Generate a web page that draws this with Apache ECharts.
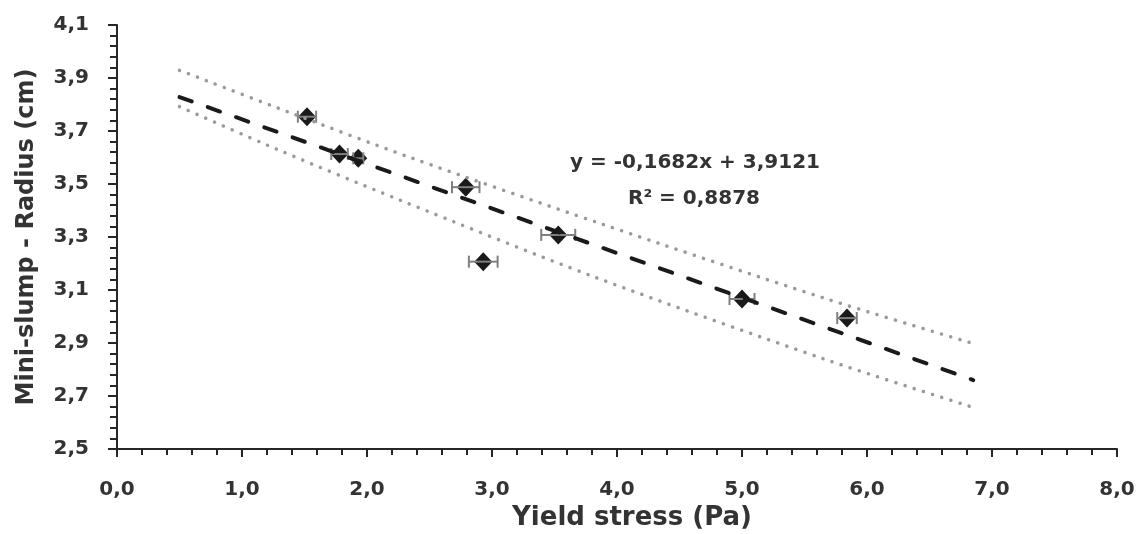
<!DOCTYPE html>
<html>
<head>
<meta charset="utf-8">
<script src="https://cdn.jsdelivr.net/npm/echarts@6/dist/echarts.min.js"></script>
<style>
html,body{margin:0;padding:0;background:#fff;}
#chart{width:1140px;height:534px;}
</style>
</head>
<body>
<div id="chart"></div>
<script>
// Measured data points (yield stress, mini-slump radius) and horizontal error (Pa)
const xVals = [1.52, 1.78, 1.93, 2.79, 2.93, 3.53, 5.00, 5.84];
const yVals = [3.754, 3.613, 3.597, 3.488, 3.207, 3.308, 3.066, 2.994];
const xErr  = [0.073, 0.066, 0.04, 0.11, 0.115, 0.136, 0.10, 0.078];

// Trend line and dotted band lines
const trendX = [0.5, 6.85];
const trendY = [3.828, 2.760];
const upperX = [0.5, 1.37, 2.34, 3.86, 5.66, 6.85];
const upperY = [3.929, 3.772, 3.601, 3.352, 3.069, 2.898];
const lowerX = [0.5, 1.28, 2.26, 3.81, 5.66, 6.85];
const lowerY = [3.792, 3.631, 3.440, 3.151, 2.839, 2.657];

const eqText = 'y = -0,1682x + 3,9121';
const r2Text = 'R² = 0,8878';
const xName = 'Yield stress (Pa)';
const yName = 'Mini-slump - Radius (cm)';

const pairs = (xs, ys) => xs.map((x, i) => [x, ys[i]]);
const fmt = v => v.toFixed(1).replace('.', ',');
const FONT = 'DejaVu Sans';
const TXT = '#333333';
const AX = '#262626';

const chart = echarts.init(document.getElementById('chart'));
chart.setOption({
  animation: false,
  backgroundColor: '#ffffff',
  grid: { left: 117, right: 23, top: 25, bottom: 85, containLabel: false, outerBoundsMode: 'none' },
  xAxis: {
    type: 'value', min: 0, max: 8, interval: 1,
    name: xName, nameLocation: 'middle', nameGap: 55,
    nameTextStyle: { fontFamily: FONT, fontWeight: 'bold', fontSize: 26, color: TXT, padding: [0, 0, 0, 30] },
    axisLine: { show: true, lineStyle: { color: AX, width: 2 } },
    axisTick: { show: true, length: 8, lineStyle: { color: AX, width: 2 } },
    minorTick: { show: true, splitNumber: 5, length: 6, lineStyle: { color: AX, width: 2 } },
    splitLine: { show: false },
    axisLabel: { margin: 31, fontFamily: FONT, fontWeight: 'bold', fontSize: 20, color: TXT, formatter: fmt }
  },
  yAxis: {
    type: 'value', min: 2.5, max: 4.1, interval: 0.2,
    name: yName, nameLocation: 'middle', nameGap: 78, nameRotate: 90,
    nameTextStyle: { fontFamily: FONT, fontWeight: 'bold', fontSize: 24, color: TXT },
    axisLine: { show: true, lineStyle: { color: AX, width: 2 } },
    axisTick: { show: true, length: 9, lineStyle: { color: AX, width: 2 } },
    minorTick: { show: true, splitNumber: 5, length: 7, lineStyle: { color: AX, width: 2 } },
    splitLine: { show: false },
    axisLabel: { margin: 28, fontFamily: FONT, fontWeight: 'bold', fontSize: 20, color: TXT, formatter: fmt }
  },
  graphic: [
    { type: 'text', left: 696 - 126, top: 153, z: 100,
      style: { text: eqText, fontFamily: FONT, fontWeight: 'bold', fontSize: 20, fill: TXT } },
    { type: 'text', left: 698 - 70, top: 189, z: 100,
      style: { text: r2Text, fontFamily: FONT, fontWeight: 'bold', fontSize: 20, fill: TXT } }
  ],
  series: [
    {
      type: 'scatter', name: 'data', z: 2,
      data: pairs(xVals, yVals),
      symbol: 'diamond', symbolSize: [18, 19],
      itemStyle: { color: '#1a1a1a', opacity: 1 }
    },
    {
      type: 'custom', name: 'err', z: 3,
      data: xVals.map((x, i) => [x, yVals[i], xErr[i]]),
      renderItem: function (params, api) {
        const x = api.value(0), y = api.value(1), e = api.value(2);
        const p1 = api.coord([x - e, y]);
        const p2 = api.coord([x + e, y]);
        const h = 6;
        const st = { stroke: '#7f7f7f', lineWidth: 2 };
        return {
          type: 'group',
          children: [
            { type: 'line', shape: { x1: p1[0], y1: p1[1], x2: p2[0], y2: p2[1] }, style: st },
            { type: 'line', shape: { x1: p1[0], y1: p1[1] - h, x2: p1[0], y2: p1[1] + h }, style: st },
            { type: 'line', shape: { x1: p2[0], y1: p2[1] - h, x2: p2[0], y2: p2[1] + h }, style: st }
          ]
        };
      }
    },
    {
      type: 'line', name: 'upper', z: 4, smooth: 0.3, symbol: 'none',
      data: pairs(upperX, upperY),
      lineStyle: { color: '#9a9a9a', width: 3.5, type: [0.1, 9.5], cap: 'round' }
    },
    {
      type: 'line', name: 'lower', z: 4, smooth: 0.3, symbol: 'none',
      data: pairs(lowerX, lowerY),
      lineStyle: { color: '#9a9a9a', width: 3.5, type: [0.1, 9.5], cap: 'round' }
    },
    {
      type: 'line', name: 'trend', z: 5, symbol: 'none',
      data: pairs(trendX, trendY),
      lineStyle: { color: '#1a1a1a', width: 4, type: [13, 17], cap: 'round' }
    }
  ]
});
</script>
</body>
</html>
